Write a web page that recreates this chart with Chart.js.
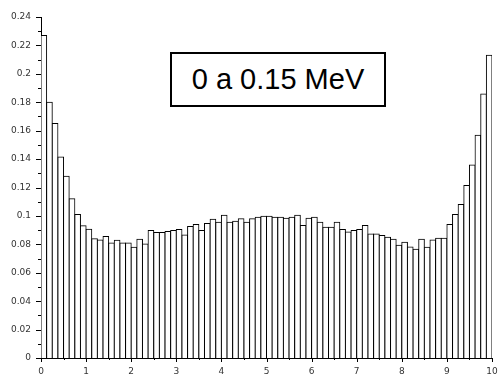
<!DOCTYPE html>
<html>
<head>
<meta charset="utf-8">
<script src="https://cdn.jsdelivr.net/npm/chart.js@4.4.1/dist/chart.umd.min.js"></script>
<style>
  html, body { margin: 0; padding: 0; background: #fff; }
  #wrap { position: relative; width: 498px; height: 376px; }
  #label {
    position: absolute; left: 170px; top: 52px; width: 212px; height: 51px;
    border: 2px solid #000; background: #fff;
    font-family: 'Liberation Sans', Arial, sans-serif; font-size: 29px;
    line-height: 51px; text-align: center; color: #000;
  }
</style>
</head>
<body>
<div id="wrap">
  <canvas id="hist" width="498" height="376"></canvas>
  <div id="label">0 a 0.15 MeV</div>
</div>
<script>
// histogram: 80 bins of width 0.125 over [0, 10]
const binWidth = 0.125;
const binValues = [
  0.227, 0.180, 0.165, 0.1415, 0.128, 0.112, 0.101, 0.093, 0.0907, 0.084,
  0.083, 0.0855, 0.081, 0.0828, 0.081, 0.081, 0.078, 0.0835, 0.0802, 0.0897,
  0.0884, 0.0884, 0.089, 0.0897, 0.0905, 0.0865, 0.0925, 0.094, 0.0898, 0.0947,
  0.0976, 0.0955, 0.1004, 0.0955, 0.0962, 0.098, 0.0955, 0.098, 0.099, 0.0997,
  0.0997, 0.099, 0.099, 0.0983, 0.099, 0.1004, 0.0933, 0.0983, 0.099, 0.0955,
  0.092, 0.092, 0.0955, 0.0905, 0.0887, 0.0898, 0.0905, 0.0933, 0.0873, 0.0873,
  0.0863, 0.0849, 0.0835, 0.0793, 0.0814, 0.0781, 0.0765, 0.0835, 0.0779, 0.083,
  0.0842, 0.0842, 0.094, 0.101, 0.108, 0.1214, 0.1358, 0.1567, 0.1858, 0.213
];
const yTickLabels = ['0', '0.02', '0.04', '0.06', '0.08', '0.1', '0.12',
                     '0.14', '0.16', '0.18', '0.2', '0.22', '0.24'];
const xTickLabels = ['0', '1', '2', '3', '4', '5', '6', '7', '8', '9', '10'];

const points = binValues.map((v, i) => ({ x: (i + 0.5) * binWidth, y: v }));

// small tick marks (major + minor) like the original plot
const tickMarks = {
  id: 'tickMarks',
  afterDraw(chart) {
    const { ctx, chartArea: a, scales: { x, y } } = chart;
    ctx.save();
    ctx.strokeStyle = '#000';
    ctx.lineWidth = 1;
    ctx.beginPath();
    for (let k = 0; k <= 24; k++) {
      const py = Math.round(y.getPixelForValue(k * 0.01)) + 0.5;
      const len = k % 2 === 0 ? 5 : 3;
      ctx.moveTo(a.left - len, py);
      ctx.lineTo(a.left, py);
    }
    for (let k = 0; k <= 20; k++) {
      const px = Math.round(x.getPixelForValue(k * 0.5)) + 0.5;
      const len = k % 2 === 0 ? 4 : 2;
      ctx.moveTo(px, a.bottom);
      ctx.lineTo(px, a.bottom + len);
    }
    ctx.stroke();
    ctx.restore();
  }
};

const tickFont = { family: "'DejaVu Sans', sans-serif", size: 9 };

new Chart(document.getElementById('hist'), {
  type: 'bar',
  data: {
    datasets: [{
      data: points,
      backgroundColor: '#fff',
      borderColor: '#000',
      borderWidth: 1,
      inflateAmount: 0.5,
      barPercentage: 1,
      categoryPercentage: 1,
    }]
  },
  options: {
    responsive: false,
    devicePixelRatio: 1,
    animation: false,
    layout: { padding: { top: 17, right: 6, left: 0, bottom: 0 } },
    plugins: { legend: { display: false }, tooltip: { enabled: false } },
    scales: {
      x: {
        type: 'linear',
        offset: false,
        min: 0,
        max: 10,
        grid: { display: false, drawTicks: false },
        border: { display: true, color: '#000', width: 1 },
        ticks: {
          stepSize: 1,
          padding: 8,
          color: '#333',
          font: tickFont,
          maxRotation: 0,
          callback: (v) => xTickLabels[Math.round(v)] ?? '',
        },
        afterFit: (s) => { s.height = 18; s.paddingLeft = 0; s.paddingRight = 0; },
      },
      y: {
        min: 0,
        max: 0.24,
        grid: { display: false, drawTicks: false },
        border: { display: true, color: '#000', width: 1 },
        ticks: {
          stepSize: 0.02,
          padding: 10,
          color: '#333',
          font: tickFont,
          callback: (v) => yTickLabels[Math.round(v / 0.02)] ?? '',
        },
        afterFit: (s) => { s.width = 41; s.paddingTop = 0; s.paddingBottom = 0; },
      },
    },
  },
  plugins: [tickMarks],
});
</script>
</body>
</html>
